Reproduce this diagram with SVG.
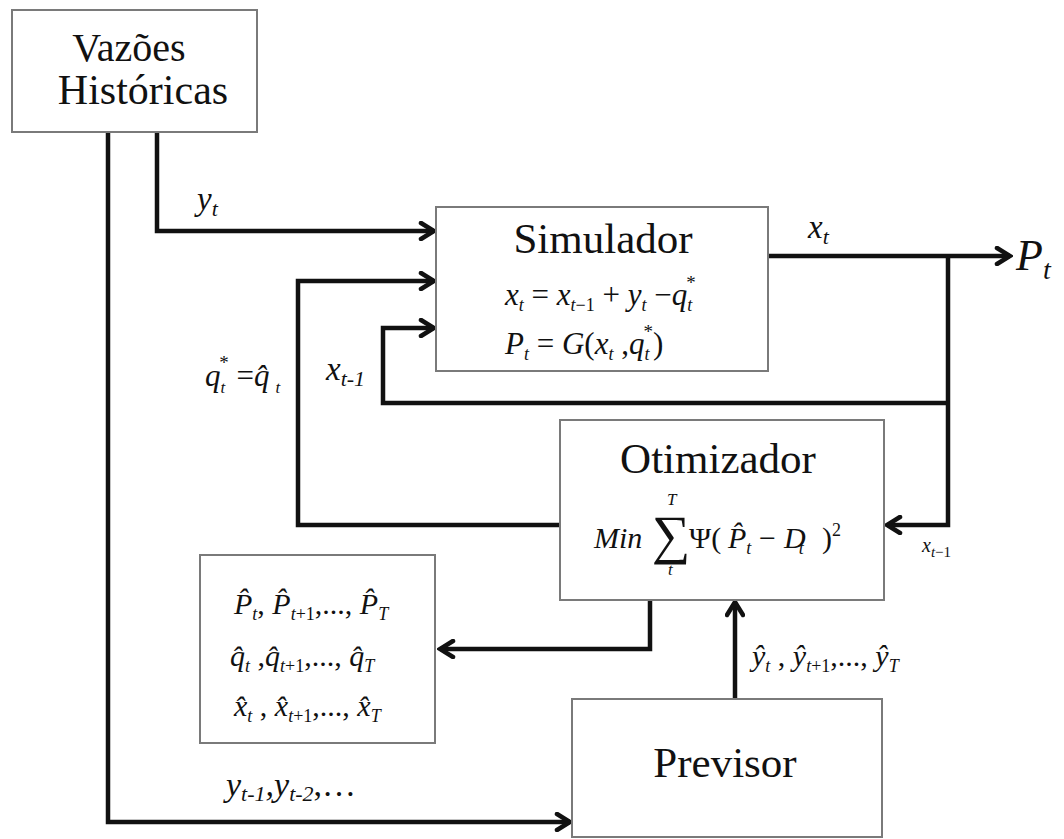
<svg xmlns="http://www.w3.org/2000/svg" width="1064" height="839" viewBox="0 0 1064 839">
<defs>
<style>
.box{fill:#fff;stroke:#7a7a7a;stroke-width:2}
.ln{fill:none;stroke:#111;stroke-width:4.5;stroke-linejoin:miter}
.t{font-family:"Liberation Serif","Times New Roman",serif;fill:#111}
.i{font-family:"Liberation Serif","Times New Roman",serif;font-style:italic;fill:#111}
.n{font-style:normal}
</style>
<marker id="ah" viewBox="0 0 20 20" refX="17" refY="10" markerWidth="20" markerHeight="20" markerUnits="userSpaceOnUse" orient="auto">
<path d="M4,2 L17,10 L4,18" fill="none" stroke="#111" stroke-width="4.5" stroke-linecap="round" stroke-linejoin="miter"/>
</marker>
</defs>
<rect width="1064" height="839" fill="#fff"/>

<g id="connectors">
<path class="ln" d="M108,132 V822 H570" marker-end="url(#ah)"/>
<path class="ln" d="M157,132 V231 H434" marker-end="url(#ah)"/>
<path class="ln" d="M560,525 H298 V281 H434" marker-end="url(#ah)"/>
<path class="ln" d="M948,403 H383 V328 H434" marker-end="url(#ah)"/>
<path class="ln" d="M768,256 H1010" marker-end="url(#ah)"/>
<path class="ln" d="M948,256 V525 H887" marker-end="url(#ah)"/>
<path class="ln" d="M650,600 V649 H440" marker-end="url(#ah)"/>
<path class="ln" d="M735,699 V602" marker-end="url(#ah)"/>
</g>

<g id="vazoes">
<rect class="box" x="12" y="10" width="245" height="122"/>
<text class="t" x="129" y="61" font-size="40" text-anchor="middle">Vazões</text>
<text class="t" x="143" y="104" font-size="42" text-anchor="middle">Históricas</text>
</g>

<g id="simulador">
<rect class="box" x="436" y="207" width="332" height="164"/>
<text class="t" x="603" y="253" font-size="43" text-anchor="middle">Simulador</text>
<text class="i" x="505" y="305" font-size="31">x<tspan font-size="18" dy="6">t</tspan><tspan class="n" dy="-6"> = </tspan>x<tspan font-size="18" dy="6">t<tspan class="n">−1</tspan></tspan><tspan class="n" dy="-6"> + </tspan>y<tspan font-size="18" dy="6">t</tspan><tspan class="n" dy="-6"> −</tspan>q<tspan font-size="18" dy="6">t</tspan><tspan class="n" font-size="19" dx="-6" dy="-22">*</tspan></text>
<text class="i" x="505" y="354" font-size="31">P<tspan font-size="18" dy="6">t</tspan><tspan class="n" dy="-6"> = </tspan>G<tspan class="n">(</tspan>x<tspan font-size="18" dy="6">t</tspan><tspan class="n" dy="-6"> ,</tspan>q<tspan font-size="18" dy="6">t</tspan><tspan class="n" font-size="19" dx="-6" dy="-22">*</tspan><tspan class="n" dy="16">)</tspan></text>
</g>

<g id="otimizador">
<rect class="box" x="560" y="420" width="324" height="180"/>
<text class="t" x="718" y="473" font-size="43" text-anchor="middle">Otimizador</text>
<text class="i" x="594" y="548" font-size="30">Min</text>
<text class="t" x="652" y="553" font-size="54">∑</text>
<text class="i" x="667" y="505" font-size="17">T</text>
<text class="i" x="668" y="575" font-size="17">t</text>
<text class="t" x="689" y="548" font-size="30">Ψ(</text>
<text class="i" x="728" y="548" font-size="30">P̂<tspan font-size="18" dy="6">t</tspan></text>
<text class="t" x="759" y="548" font-size="30">−</text>
<text class="i" x="784" y="548" font-size="30">D<tspan font-size="18" dy="6" dx="-7">t</tspan></text>
<text class="t" x="822" y="548" font-size="30">)<tspan font-size="18" dy="-12">2</tspan></text>
</g>

<g id="resultados">
<rect class="box" x="200" y="555" width="235" height="188"/>
<text class="i" x="234" y="614" font-size="30">P̂<tspan font-size="18" dy="6">t</tspan><tspan class="n" dy="-6">, </tspan>P̂<tspan font-size="18" dy="6">t<tspan class="n">+1</tspan></tspan><tspan class="n" dy="-6">,..., </tspan>P̂<tspan font-size="18" dy="6">T</tspan></text>
<text class="i" x="230" y="666" font-size="30">q̂<tspan font-size="18" dy="6">t</tspan><tspan class="n" dy="-6"> ,</tspan>q̂<tspan font-size="18" dy="6">t<tspan class="n">+1</tspan></tspan><tspan class="n" dy="-6">,..., </tspan>q̂<tspan font-size="18" dy="6">T</tspan></text>
<text class="i" x="234" y="716" font-size="30">x̂<tspan font-size="18" dy="6">t</tspan><tspan class="n" dy="-6"> , </tspan>x̂<tspan font-size="18" dy="6">t<tspan class="n">+1</tspan></tspan><tspan class="n" dy="-6">,..., </tspan>x̂<tspan font-size="18" dy="6">T</tspan></text>
</g>

<g id="previsor">
<rect class="box" x="572" y="699" width="310" height="138"/>
<text class="t" x="725" y="777" font-size="43" text-anchor="middle">Previsor</text>
</g>

<g id="labels">
<text class="i" x="197" y="210" font-size="33">y<tspan font-size="22" dy="6">t</tspan></text>
<text class="i" x="808" y="238" font-size="33">x<tspan font-size="22" dy="6">t</tspan></text>
<text class="i" x="1016" y="270" font-size="44">P<tspan font-size="28" dy="9">t</tspan></text>
<text class="i" x="205" y="386" font-size="31">q<tspan font-size="17" dy="7">t</tspan><tspan class="n" font-size="19" dx="-6" dy="-24">*</tspan><tspan class="n" dy="17"> =</tspan>q̂<tspan font-size="17" dy="7" dx="6">t</tspan></text>
<text class="i" x="326" y="380" font-size="33">x<tspan font-size="22" dy="6">t-1</tspan></text>
<text class="i" x="922" y="552" font-size="20">x<tspan font-size="15" dy="5">t<tspan class="n">−1</tspan></tspan></text>
<text class="i" x="752" y="666" font-size="30">ŷ<tspan font-size="18" dy="6">t</tspan><tspan class="n" dy="-6"> , </tspan>ŷ<tspan font-size="18" dy="6">t<tspan class="n">+1</tspan></tspan><tspan class="n" dy="-6">,..., </tspan>ŷ<tspan font-size="18" dy="6">T</tspan></text>
<text class="i" x="226" y="796" font-size="34">y<tspan font-size="22" dy="5">t-1</tspan><tspan dy="-5">,y</tspan><tspan font-size="22" dy="5">t-2</tspan><tspan class="n" dy="-5">,…</tspan></text>
</g>
</svg>
